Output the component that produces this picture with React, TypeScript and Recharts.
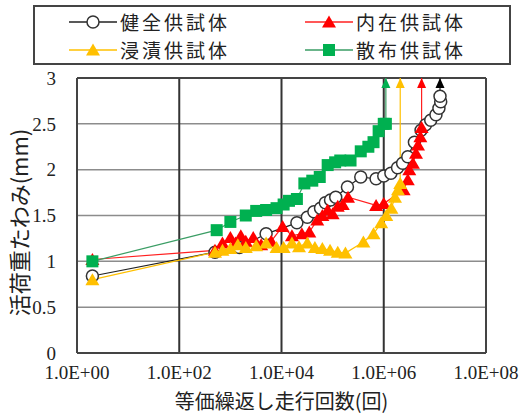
import React from 'react';
import { LineChart, Line, XAxis, YAxis, CartesianGrid, Legend, ReferenceLine, Label } from 'recharts';

// 等価繰返し走行回数 [回] と 活荷重たわみ [mm] の組
const healthy: [number, number][] = [
  [2, 0.84], [500, 1.1], [1500, 1.15], [5000, 1.3], [20000, 1.42], [32000, 1.48], [43000, 1.54],
  [58000, 1.58], [72000, 1.64], [91000, 1.67], [115000, 1.7], [195000, 1.81], [355000, 1.92],
  [708000, 1.9], [1e6, 1.93], [1.38e6, 1.96], [1.86e6, 2.02], [2.34e6, 2.07], [2.95e6, 2.14],
  [3.98e6, 2.3], [5.37e6, 2.43], [6.6e6, 2.49], [8.3e6, 2.54], [1.05e7, 2.6], [1.2e7, 2.67],
  [1.3e7, 2.74], [1.26e7, 2.8], [1.26e7, 3.0],
];
const internal: [number, number][] = [
  [2, 1.02], [500, 1.12], [700, 1.2], [1000, 1.26], [1260, 1.2], [1600, 1.28], [2000, 1.22],
  [2800, 1.26], [4000, 1.18], [6300, 1.22], [10500, 1.38], [16000, 1.28], [25000, 1.3],
  [35000, 1.32], [50000, 1.45], [63000, 1.5], [80000, 1.56], [100000, 1.52], [126000, 1.6],
  [158000, 1.62], [200000, 1.7], [708000, 1.61], [1e6, 1.63], [2.45e6, 1.78], [2.95e6, 1.89],
  [3.16e6, 2.0], [3.72e6, 2.07], [4.27e6, 2.18], [4.68e6, 2.27], [5.2e6, 2.36], [5.5e6, 2.46],
  [5.5e6, 3.0],
];
const immersed: [number, number][] = [
  [2, 0.8], [500, 1.1], [700, 1.12], [1000, 1.14], [1400, 1.18], [2000, 1.15], [3200, 1.17],
  [5000, 1.2], [8000, 1.15], [11000, 1.15], [16000, 1.2], [22000, 1.16], [32000, 1.2],
  [45000, 1.15], [63000, 1.14], [89000, 1.12], [126000, 1.1], [178000, 1.09], [400000, 1.21],
  [631000, 1.3], [891000, 1.42], [1.12e6, 1.5], [1.41e6, 1.58], [1.66e6, 1.7], [1.9e6, 1.78],
  [2.1e6, 1.85], [2.1e6, 3.0],
];
const sprayed: [number, number][] = [
  [2, 1.0], [540, 1.34], [1000, 1.43], [2000, 1.5], [3200, 1.55], [5000, 1.56], [8000, 1.58],
  [11000, 1.62], [14000, 1.66], [20000, 1.68], [28000, 1.85], [40000, 1.88], [56000, 1.92],
  [80000, 2.05], [112000, 2.08], [141000, 2.1], [224000, 2.1], [355000, 2.2], [500000, 2.25],
  [631000, 2.3], [794000, 2.42], [1e6, 2.5], [1.1e6, 2.5], [1.1e6, 3.0],
];

const xTicks = [1, 1e2, 1e4, 1e6, 1e8];
const yTicks = [0, 0.5, 1, 1.5, 2, 2.5, 3];

const toRows = (pts: [number, number][]) => pts.map(([x, y]) => ({ x, y }));

type Shape = 'circle' | 'triangle' | 'square';

const series = [
  { name: '健全供試体', data: toRows(healthy), line: '#222', fill: '#fff', marker: '#333', shape: 'circle' as Shape, arrow: '#000' },
  { name: '内在供試体', data: toRows(internal), line: '#ff2020', fill: '#ff0000', marker: '#ff0000', shape: 'triangle' as Shape, arrow: '#ff0000' },
  { name: '浸漬供試体', data: toRows(immersed), line: '#ffc000', fill: '#ffc000', marker: '#ffc000', shape: 'triangle' as Shape, arrow: '#ffc000' },
  { name: '散布供試体', data: toRows(sprayed), line: '#3a9d64', fill: '#00b050', marker: '#00b050', shape: 'square' as Shape, arrow: '#00b050' },
];

function Marker({ cx, cy, shape, fill, stroke }: { cx: number; cy: number; shape: Shape; fill: string; stroke: string }) {
  if (shape === 'circle') {
    return <circle cx={cx} cy={cy} r={6} fill={fill} stroke={stroke} strokeWidth={1.5} />;
  }
  if (shape === 'square') {
    return <rect x={cx - 6} y={cy - 6} width={12} height={12} fill={fill} />;
  }
  return <polygon points={`${cx},${cy - 6.5} ${cx - 7},${cy + 5.5} ${cx + 7},${cy + 5.5}`} fill={fill} />;
}

// last point of each series gets an arrowhead instead of a marker
const makeDot = (s: typeof series[number]) => (props: any) => {
  const { cx, cy, index } = props;
  if (cx == null || cy == null) return <g key={`d${index}`} />;
  if (index === s.data.length - 1) {
    return (
      <polygon
        key={`d${index}`}
        points={`${cx},${cy} ${cx - 4.5},${cy + 10} ${cx + 4.5},${cy + 10}`}
        fill={s.arrow}
      />
    );
  }
  return (
    <g key={`d${index}`}>
      <Marker cx={cx} cy={cy} shape={s.shape} fill={s.fill} stroke={s.marker} />
    </g>
  );
};

const cjk = '"Noto Sans CJK JP", "Noto Sans", sans-serif';
const serif = '"Liberation Serif", "DejaVu Serif", serif';

function LegendBox() {
  return (
    <div
      style={{
        width: 478,
        height: 60,
        border: '2px solid #444',
        background: '#fff',
        display: 'grid',
        gridTemplateColumns: '236px 236px',
        gridTemplateRows: '28px 28px',
        paddingLeft: 34,
        paddingTop: 1,
        boxSizing: 'border-box',
        fontFamily: cjk,
        fontSize: 19,
        lineHeight: '28px',
        color: '#222',
      }}
    >
      {series.map((s) => (
        <div key={s.name} style={{ display: 'flex', alignItems: 'center' }}>
          <svg width={48} height={20} style={{ marginRight: 3, flex: 'none' }}>
            <line x1={0} y1={10} x2={48} y2={10} stroke={s.line} strokeWidth={1.5} />
            <Marker cx={24} cy={10} shape={s.shape} fill={s.fill} stroke={s.marker} />
          </svg>
          <span style={{ letterSpacing: 3 }}>{s.name}</span>
        </div>
      ))}
    </div>
  );
}

const yLabel = (props: any) => {
  const vb = props.viewBox;
  const cx = 18;
  const cy = vb.y + vb.height / 2 + 7;
  return (
    <text
      x={cx}
      y={cy}
      transform={`rotate(-90 ${cx} ${cy})`}
      textAnchor="middle"
      dominantBaseline="central"
      fontFamily={cjk}
      fontSize={22}
      fill="#222"
    >
      活荷重たわみ(mm)
    </text>
  );
};

const fmtExp = (v: number) => `1.0E+${String(Math.round(Math.log10(v))).padStart(2, '0')}`;

export default function App() {
  return (
    <div style={{ position: 'absolute', left: 0, top: 0, width: 523, height: 414, background: '#fff' }}>
      <LineChart width={523} height={414} margin={{ top: 78, right: 37, bottom: 0, left: 17 }}>
        <CartesianGrid horizontal vertical={false} stroke="#8c8c8c" strokeWidth={1.5} />
        <CartesianGrid horizontal={false} vertical stroke="#333" strokeWidth={2} />
        <XAxis
          dataKey="x"
          type="number"
          scale="log"
          domain={[1, 1e8]}
          ticks={xTicks}
          allowDataOverflow
          tickFormatter={fmtExp}
          tickLine={false}
          tickSize={0}
          tickMargin={13}
          axisLine={{ stroke: '#444', strokeWidth: 2 }}
          height={61}
          tick={{ fontFamily: serif, fontSize: 19, fill: '#222' }}
        >
          <Label
            value="等価繰返し走行回数(回)"
            position="insideBottom"
            offset={5}
            style={{ fontFamily: cjk, fontSize: 20, fill: '#222' }}
          />
        </XAxis>
        <YAxis
          type="number"
          domain={[0, 3]}
          ticks={yTicks}
          allowDataOverflow
          tickLine={false}
          tickSize={0}
          tickMargin={21}
          axisLine={{ stroke: '#444', strokeWidth: 2 }}
          width={60}
          tick={{ fontFamily: serif, fontSize: 19, fill: '#222' }}
        >
          <Label content={yLabel} />
        </YAxis>
        <ReferenceLine y={3} stroke="#444" strokeWidth={2} />
        <ReferenceLine x={1e8} stroke="#444" strokeWidth={2} />
        <Legend
          layout="horizontal"
          verticalAlign="middle"
          align="center"
          content={() => <LegendBox />}
          wrapperStyle={{ top: 5, left: 33, width: 478, height: 60 }}
        />
        {series.map((s) => (
          <Line
            key={s.name}
            name={s.name}
            data={s.data}
            dataKey="y"
            stroke={s.line}
            strokeWidth={1.2}
            dot={makeDot(s)}
            activeDot={false}
            isAnimationActive={false}
          />
        ))}
      </LineChart>
    </div>
  );
}
